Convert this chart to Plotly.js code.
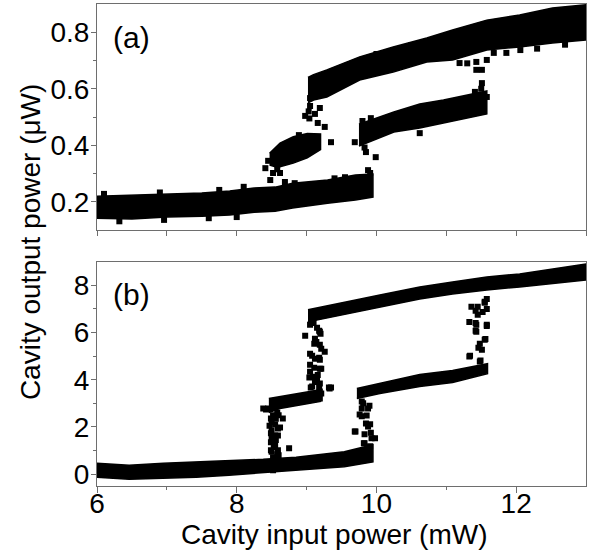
<!DOCTYPE html>
<html>
<head>
<meta charset="utf-8">
<script src="https://cdn.plot.ly/plotly-3.0.1.min.js"></script>
<style>html,body{margin:0;padding:0;background:#fff;}#chart{width:594px;height:556px;}</style>
</head>
<body>
<div id="chart"></div>
<script>
// ---------- Panel (a): cavity output power (µW) ----------
// dense bands of data: input power x, upper / lower edge of the band
const aLowX  = [6.0, 6.5, 7.0, 7.5, 7.9, 8.25, 8.55, 8.8, 9.3, 9.7, 9.95];
const aLowHi = [0.220, 0.224, 0.227, 0.231, 0.238, 0.249, 0.252, 0.266, 0.277, 0.295, 0.298];
const aLowLo = [0.142, 0.139, 0.146, 0.149, 0.153, 0.163, 0.167, 0.178, 0.195, 0.206, 0.217];

const aBlobX  = [8.47, 8.55, 8.62, 8.81, 9.01, 9.2];
const aBlobHi = [0.372, 0.392, 0.408, 0.430, 0.442, 0.440];
const aBlobLo = [0.330, 0.324, 0.324, 0.337, 0.356, 0.385];

const aMidX  = [9.75, 10.25, 10.62, 10.96, 11.58];
const aMidHi = [0.475, 0.518, 0.546, 0.560, 0.592];
const aMidLo = [0.397, 0.447, 0.461, 0.479, 0.511];

const aUpX  = [9.02, 9.1, 9.29, 9.76, 10.24, 10.72, 11.09, 11.58, 12.05, 12.52, 13.0];
const aUpHi = [0.640, 0.650, 0.667, 0.713, 0.748, 0.780, 0.808, 0.843, 0.861, 0.886, 0.897];
const aUpLo = [0.550, 0.560, 0.571, 0.631, 0.659, 0.695, 0.702, 0.737, 0.748, 0.762, 0.773];

// isolated points (a)
const aPtX = [8.98, 9.12, 9.16, 9.26, 9.35, 8.41, 8.52, 8.62, 8.48, 8.69, 8.83, 9.85, 9.99, 9.88, 9.91,
              9.05, 9.05, 9.19, 8.89, 9.92, 9.69, 11.19, 11.43, 11.58, 11.43, 11.51, 11.51, 11.41, 11.58,
              10.62, 11.68, 11.86, 12.06, 6.32, 6.96, 7.6, 8.0, 6.1, 6.9, 7.75, 8.1,
              9.03, 9.04, 8.45, 8.58, 9.80, 9.83, 11.30, 11.50, 12.30, 12.70, 10.00, 10.50, 11.00, 9.55, 9.40];
const aPtY = [0.504, 0.511, 0.479, 0.465, 0.411, 0.319, 0.302, 0.302, 0.277, 0.270, 0.266, 0.376, 0.358, 0.312, 0.302,
              0.567, 0.539, 0.532, 0.436, 0.496, 0.411, 0.691, 0.695, 0.702, 0.667, 0.667, 0.620, 0.589, 0.571,
              0.443, 0.727, 0.727, 0.737, 0.131, 0.136, 0.142, 0.146, 0.228, 0.233, 0.242, 0.253,
              0.520, 0.495, 0.345, 0.315, 0.486, 0.392, 0.690, 0.600, 0.742, 0.756, 0.723, 0.755, 0.785, 0.287, 0.283];

// ---------- Panel (b): cavity output power ----------
const bLowX  = [6.0, 6.46, 6.95, 7.42, 7.89, 8.38, 8.85, 9.54, 9.95];
const bLowHi = [0.46, 0.38, 0.46, 0.51, 0.55, 0.63, 0.72, 0.95, 1.25];
const bLowLo = [-0.13, -0.21, -0.17, -0.13, -0.04, 0.04, 0.17, 0.32, 0.52];

const bMidLX  = [8.46, 8.62, 8.9, 9.2];
const bMidLHi = [3.21, 3.29, 3.46, 3.58];
const bMidLLo = [2.61, 2.78, 2.91, 3.08];

const bUpX  = [9.02, 9.22, 9.58, 10.05, 10.62, 11.09, 11.58, 12.05, 12.52, 13.0];
const bUpHi = [6.96, 7.09, 7.30, 7.59, 7.93, 8.14, 8.35, 8.48, 8.69, 8.90];
const bUpLo = [6.45, 6.58, 6.79, 7.08, 7.42, 7.63, 7.80, 7.93, 8.06, 8.22];

const bMidRX  = [9.72, 10.05, 10.62, 11.09, 11.59];
const bMidRHi = [3.63, 3.84, 4.22, 4.39, 4.68];
const bMidRLo = [3.21, 3.42, 3.71, 3.88, 4.26];

// isolated points (b): switching columns
const bPtX = [8.45, 8.49, 8.66, 8.49, 8.59, 8.59, 8.49, 8.59, 8.75, 8.52, 8.49, 8.55, 8.62, 8.52, 8.52, 8.55, 8.52, 8.58, 8.55, 8.58, 8.38, 8.42,
              8.50, 8.50, 8.50, 8.50, 8.56, 8.56, 8.56, 8.60, 8.60, 8.47, 8.53,
              9.05, 9.19, 8.98, 9.12, 9.19, 9.26, 9.05, 9.12, 9.19, 9.05, 9.19, 9.05, 9.09, 9.19, 9.33, 9.19, 9.19, 9.08, 9.35,
              9.07, 9.15, 9.18, 9.11, 9.21, 9.08, 9.18, 9.11, 9.21, 9.04, 9.15, 9.06, 9.18, 9.21, 9.32,
              9.10, 9.14, 9.16, 9.12, 9.20,
              9.79, 9.88, 9.79, 9.91, 9.88, 9.69, 9.83, 9.98, 9.83, 9.91, 9.76, 9.79, 9.70, 9.85, 9.93, 9.82, 9.88, 9.86,
              9.90, 9.92, 9.81,
              11.36, 11.45, 11.55, 11.58, 11.45, 11.52, 11.33, 11.43, 11.58, 11.43, 11.55, 11.48, 11.51, 11.33, 11.48,
              11.58, 11.42, 11.55, 11.42, 11.58, 11.42, 11.56, 11.46, 11.34, 11.49];
const bPtY = [2.78, 2.36, 2.36, 1.73, 1.94, 1.64, 1.01, 1.01, 1.10, 0.72, 1.35, 1.64, 1.98, 0.46, 0.17, 2.10, 2.50, 2.60, 1.20, 0.85, 2.78, 2.74,
              2.20, 1.85, 1.50, 0.95, 2.35, 1.45, 0.60, 2.50, 0.80, 2.05, 1.15,
              6.33, 6.03, 5.86, 5.74, 5.48, 5.19, 5.10, 4.89, 4.85, 4.64, 4.47, 4.34, 4.13, 3.84, 3.63, 3.50, 3.21, 3.71, 3.67,
              6.58, 6.20, 6.07, 5.52, 5.31, 5.02, 4.93, 4.51, 4.47, 4.09, 3.96, 3.67, 3.67, 3.42, 3.67,
              6.40, 5.60, 4.20, 3.90, 5.95,
              2.78, 2.78, 2.45, 2.11, 2.02, 1.81, 1.69, 1.52, 1.31, 1.18, 2.53, 3.08, 1.81, 2.15, 1.52, 1.31, 1.14, 2.49,
              2.90, 1.75, 3.00,
              7.09, 7.09, 7.30, 7.00, 6.75, 6.87, 6.45, 6.33, 6.33, 6.03, 5.69, 5.52, 5.27, 4.98, 4.77,
              7.42, 6.92, 7.26, 6.40, 6.28, 6.07, 5.73, 5.35, 5.02, 4.81];

// ---------- build traces ----------
function band(xs, hi, lo, xa, ya) {
  return {
    x: xs.concat(xs.slice().reverse()),
    y: hi.concat(lo.slice().reverse()),
    xaxis: xa, yaxis: ya,
    mode: 'lines', fill: 'toself', fillcolor: '#000',
    line: {color: '#000', width: 1.5},
    hoverinfo: 'skip', showlegend: false
  };
}
function pts(xs, ys, xa, ya) {
  return {
    x: xs, y: ys, xaxis: xa, yaxis: ya, mode: 'markers', type: 'scatter',
    marker: {symbol: 'square', size: 6, color: '#000', line: {width: 0}},
    showlegend: false
  };
}
const traces = [
  band(aLowX, aLowHi, aLowLo, 'x2', 'y'),
  band(aBlobX, aBlobHi, aBlobLo, 'x2', 'y'),
  band(aMidX, aMidHi, aMidLo, 'x2', 'y'),
  band(aUpX, aUpHi, aUpLo, 'x2', 'y'),
  pts(aPtX, aPtY, 'x2', 'y'),
  band(bLowX, bLowHi, bLowLo, 'x', 'y2'),
  band(bMidLX, bMidLHi, bMidLLo, 'x', 'y2'),
  band(bUpX, bUpHi, bUpLo, 'x', 'y2'),
  band(bMidRX, bMidRHi, bMidRLo, 'x', 'y2'),
  pts(bPtX, bPtY, 'x', 'y2')
];

const F = 'Liberation Sans, Arial, sans-serif';
const axCol = '#6e6e6e';
const common = {
  showline: true, linecolor: axCol, linewidth: 1, mirror: true,
  ticks: 'outside', tickcolor: axCol, tickwidth: 1,
  showgrid: false, zeroline: false,
  tickfont: {family: F, size: 28, color: '#000'}
};

const layout = {
  width: 594, height: 556,
  margin: {l: 97, r: 8, t: 4, b: 70},
  paper_bgcolor: '#fff', plot_bgcolor: '#fff',
  font: {family: F, color: '#000'},
  xaxis: Object.assign({}, common, {
    anchor: 'y2', domain: [0, 1], range: [6, 13],
    tickvals: [6, 8, 10, 12], ticklen: 6, ticklabelstandoff: -14,
    minor: {tickvals: [7, 9, 11], ticklen: 3, ticks: 'outside', tickcolor: axCol}
  }),
  xaxis2: Object.assign({}, common, {
    anchor: 'y', matches: 'x', range: [6, 13], dtick: 1, ticklen: 5, showticklabels: false
  }),
  yaxis: Object.assign({}, common, {
    anchor: 'x2', domain: [0.531, 1], range: [0.1, 0.9],
    tickvals: [0.2, 0.4, 0.6, 0.8], ticklen: 5, ticklabelstandoff: -4,
    minor: {tickvals: [0.3, 0.5, 0.7], ticklen: 3, ticks: 'outside', tickcolor: axCol}
  }),
  yaxis2: Object.assign({}, common, {
    anchor: 'x', domain: [0, 0.4654], range: [-0.5, 9],
    tickvals: [0, 2, 4, 6, 8], ticklen: 5, ticklabelstandoff: -4,
    minor: {tickvals: [1, 3, 5, 7], ticklen: 3, ticks: 'outside', tickcolor: axCol}
  }),
  annotations: [
    {text: 'Cavity output power (\u03bcW)', textangle: -90, xref: 'paper', yref: 'paper',
     x: 0, y: 0.506, xanchor: 'center', yanchor: 'middle', xshift: -67, showarrow: false,
     font: {family: F, size: 28, color: '#000'}},
    {text: 'Cavity input power (mW)', xref: 'paper', yref: 'paper',
     x: 0.485, y: -0.1, xanchor: 'center', yanchor: 'middle', showarrow: false,
     font: {family: F, size: 28, color: '#000'}},
    {text: '(a)', xref: 'x2', yref: 'y', x: 6.2, y: 0.78, xanchor: 'left', yanchor: 'middle',
     showarrow: false, font: {family: F, size: 30, color: '#000'}},
    {text: '(b)', xref: 'x', yref: 'y2', x: 6.2, y: 7.6, xanchor: 'left', yanchor: 'middle',
     showarrow: false, font: {family: F, size: 30, color: '#000'}}
  ]
};

Plotly.newPlot('chart', traces, layout, {staticPlot: true, displayModeBar: false});
</script>
</body>
</html>
